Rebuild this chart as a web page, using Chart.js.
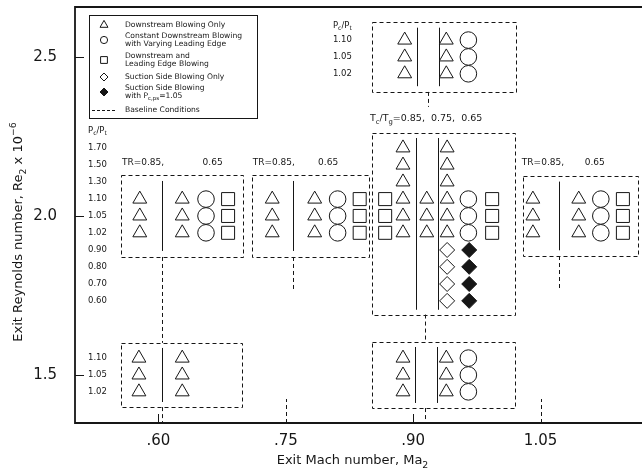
<!DOCTYPE html>
<html>
<head>
<meta charset="utf-8">
<style>
  html, body { margin: 0; padding: 0; background: #fff; }
  #wrap { width: 642px; height: 472px; }
</style>
<script src="https://cdn.jsdelivr.net/npm/chart.js@4.4.0/dist/chart.umd.min.js"></script>
</head>
<body>
<div id="wrap"><canvas id="chart" width="642" height="472"></canvas></div>
<script>
const machTicks = [0.60, 0.75, 0.90, 1.05];
const machLabels = ['.60', '.75', '.90', '1.05'];
const reTicks = [1.5, 2.0, 2.5];
const reLabels = ['1.5', '2.0', '2.5'];

// coolant pressure ratio rows, and the Re_2 level each row sits on
const pcRowsMid = ['1.70', '1.50', '1.30', '1.10', '1.05', '1.02', '0.90', '0.80', '0.70', '0.60'];
const reRowsMid = [2.214, 2.160, 2.107, 2.053, 2.000, 1.947, 1.893, 1.840, 1.786, 1.733];
const pcRowsShort = ['1.10', '1.05', '1.02'];
const reRowsLow = [1.553, 1.500, 1.447];
const reRowsTop = [2.553, 2.500, 2.447];

// [Ma_2 column, Re_2 rows] for each symbol type
const downstreamOnly = [
  [0.578, [2.053, 2.000, 1.947]],
  [0.628, [2.053, 2.000, 1.947]],
  [0.577, [1.553, 1.500, 1.447]],
  [0.628, [1.553, 1.500, 1.447]],
  [0.734, [2.053, 2.000, 1.947]],
  [0.784, [2.053, 2.000, 1.947]],
  [0.888, [2.214, 2.160, 2.107, 2.053, 2.000, 1.947]],
  [0.916, [2.053, 2.000, 1.947]],
  [0.940, [2.214, 2.160, 2.107, 2.053, 2.000, 1.947]],
  [0.890, [2.553, 2.500, 2.447]],
  [0.939, [2.553, 2.500, 2.447]],
  [0.888, [1.553, 1.500, 1.447]],
  [0.939, [1.553, 1.500, 1.447]],
  [1.041, [2.053, 2.000, 1.947]],
  [1.095, [2.053, 2.000, 1.947]]
];
const varyingLE = [
  [0.656, [2.053, 2.000, 1.947]],
  [0.811, [2.053, 2.000, 1.947]],
  [0.965, [2.053, 2.000, 1.947]],
  [0.965, [2.553, 2.500, 2.447]],
  [0.965, [1.553, 1.500, 1.447]],
  [1.121, [2.053, 2.000, 1.947]]
];
const downstreamAndLE = [
  [0.682, [2.053, 2.000, 1.947]],
  [0.837, [2.053, 2.000, 1.947]],
  [0.867, [2.053, 2.000, 1.947]],
  [0.993, [2.053, 2.000, 1.947]],
  [1.147, [2.053, 2.000, 1.947]]
];
const suctionOnly = [
  [0.940, [1.893, 1.840, 1.786, 1.733]]
];
const suctionWithPs = [
  [0.966, [1.893, 1.840, 1.786, 1.733]]
];

// dashed test-condition boxes: [Ma left, Ma right, Re top, Re bottom]
const boxes = [
  [0.556, 0.700, 2.129, 1.871],
  [0.556, 0.698, 1.601, 1.399],
  [0.710, 0.848, 2.129, 1.871],
  [0.851, 1.020, 2.261, 1.690],
  [0.852, 1.022, 2.610, 2.390],
  [0.851, 1.019, 1.604, 1.396],
  [1.029, 1.165, 2.126, 1.874]
];
// solid TR dividers inside the boxes: [Ma, Re top, Re bottom]
const dividers = [
  [0.604, 2.110, 1.890], [0.604, 1.585, 1.415],
  [0.758, 2.110, 1.890],
  [0.903, 2.245, 1.705], [0.929, 2.245, 1.705],
  [0.904, 2.592, 2.408], [0.930, 2.592, 2.408],
  [0.902, 1.588, 1.412], [0.928, 1.588, 1.412],
  [1.072, 2.108, 1.892]
];
// connecting lines between boxes and down to the axis
const links = [
  [0.604, 1.871, 1.601],
  [0.604, 1.399, 1.349],
  [0.758, 1.871, 1.770],
  [1.072, 1.874, 1.770],
  [0.917, 2.390, 2.343],
  [0.914, 1.690, 1.604],
  [0.914, 1.396, 1.349]
];

const toPoints = cols => cols.flatMap(([x, ys]) => ys.map(y => ({ x, y })));

const INK = '#161616';
const FONT = '"DejaVu Sans", sans-serif';

function rich(ctx, parts, x, y, size, align) {
  // parts: [text, 0 normal | 1 subscript | 2 superscript]
  const f = m => (m ? size * 0.72 : size) + 'px ' + FONT;
  let w = 0;
  parts.forEach(([t, m]) => { ctx.font = f(m); w += ctx.measureText(t).width; });
  let cx = align === 'center' ? x - w / 2 : x;
  ctx.textAlign = 'left';
  ctx.textBaseline = 'middle';
  parts.forEach(([t, m]) => {
    ctx.font = f(m);
    const dy = m === 1 ? size * 0.32 : m === 2 ? -size * 0.42 : 0;
    ctx.fillText(t, cx, y + dy);
    cx += ctx.measureText(t).width;
  });
}

function vline(ctx, x, y1, y2) {
  ctx.beginPath();
  ctx.moveTo(Math.round(x) + 0.5, y1);
  ctx.lineTo(Math.round(x) + 0.5, y2);
  ctx.stroke();
}

const annotations = {
  id: 'annotations',
  beforeDatasetsDraw(chart) {
    const { ctx, chartArea: a, scales: { x, y } } = chart;
    const px = v => x.getPixelForValue(v);
    const py = v => y.getPixelForValue(v);
    ctx.save();
    ctx.strokeStyle = INK;
    ctx.lineWidth = 1;

    ctx.setLineDash([4, 3]);
    boxes.forEach(([l, r, t, b]) => {
      ctx.strokeRect(Math.round(px(l)) + 0.5, Math.round(py(t)) + 0.5,
        Math.round(px(r) - px(l)), Math.round(py(b) - py(t)));
    });
    links.forEach(([m, t, b]) => vline(ctx, px(m), py(t), py(b)));
    ctx.setLineDash([]);
    dividers.forEach(([m, t, b]) => vline(ctx, px(m), py(t), py(b)));

    // frame and inward ticks
    ctx.lineWidth = 1.8;
    ctx.beginPath();
    ctx.moveTo(a.right, a.top); ctx.lineTo(a.left, a.top);
    ctx.lineTo(a.left, a.bottom); ctx.lineTo(a.right, a.bottom);
    ctx.stroke();
    ctx.lineWidth = 1;
    reTicks.forEach(v => {
      ctx.beginPath();
      ctx.moveTo(a.left, Math.round(py(v)) + 0.5);
      ctx.lineTo(a.left + 9, Math.round(py(v)) + 0.5);
      ctx.stroke();
    });
    machTicks.forEach((v, i) => {
      // the .75 and 1.05 marks run up as longer dashed lines
      const long = i % 2 === 1;
      ctx.setLineDash(long ? [4, 3] : []);
      vline(ctx, px(v), a.bottom, a.bottom - (long ? 24 : 9));
    });
    ctx.restore();
  },
  afterDatasetsDraw(chart) {
    const { ctx, chartArea: a, scales: { x, y } } = chart;
    const px = v => x.getPixelForValue(v);
    const py = v => y.getPixelForValue(v);
    ctx.save();
    ctx.fillStyle = INK;
    ctx.strokeStyle = INK;

    // P_c/P_t row labels
    const leftX = a.left + 13;
    rich(ctx, [['P', 0], ['c', 1], ['/P', 0], ['t', 1]], leftX, py(2.267), 8.5, 'left');
    pcRowsMid.forEach((t, i) => rich(ctx, [[t, 0]], leftX, py(reRowsMid[i]), 8.5, 'left'));
    pcRowsShort.forEach((t, i) => rich(ctx, [[t, 0]], leftX, py(reRowsLow[i]), 8.5, 'left'));
    const topX = px(0.8055);
    rich(ctx, [['P', 0], ['c', 1], ['/P', 0], ['t', 1]], topX, py(2.597), 8.5, 'left');
    pcRowsShort.forEach((t, i) => rich(ctx, [[t, 0]], topX, py(reRowsTop[i]), 8.5, 'left'));

    // temperature ratio headers
    [[0.557, 0.652], [0.711, 0.788], [1.028, 1.102]].forEach(([m1, m2]) => {
      rich(ctx, [['TR=0.85,', 0]], px(m1), py(2.167), 9, 'left');
      rich(ctx, [['0.65', 0]], px(m2), py(2.167), 9, 'left');
    });
    rich(ctx, [['T', 0], ['c', 1], ['/T', 0], ['g', 1], ['=0.85,  0.75,  0.65', 0]],
      px(0.849), py(2.305), 9.5, 'left');

    // symbol key
    const lx = a.left + 14, ly = 15, lw = 168, lh = 103;
    ctx.lineWidth = 1;
    ctx.strokeRect(lx + 0.5, ly + 0.5, lw, lh);
    const sx = lx + 15, tx = lx + 36;
    const keys = [
      ['triangle', 4.6, false, 25, [[['Downstream Blowing Only', 0]]]],
      ['circle', 3.6, false, 40, [[['Constant Downstream Blowing', 0]], [['with Varying Leading Edge', 0]]]],
      ['rect', 4.8, false, 60, [[['Downstream and', 0]], [['Leading Edge Blowing', 0]]]],
      ['rectRot', 4, false, 77, [[['Suction Side Blowing Only', 0]]]],
      ['rectRot', 4, true, 92, [[['Suction Side Blowing', 0]], [['with P', 0], ['c,ps', 1], ['=1.05', 0]]]]
    ];
    keys.forEach(([style, r, filled, cy, lines]) => {
      ctx.fillStyle = filled ? INK : '#fff';
      Chart.helpers.drawPoint(ctx, { pointStyle: style, radius: r, rotation: 0, borderWidth: 1 }, sx, cy);
      ctx.fillStyle = INK;
      lines.forEach((parts, i) => {
        const off = lines.length === 1 ? 0 : (i === 0 ? -4.2 : 4.2);
        rich(ctx, parts, tx, cy + off, 7.6, 'left');
      });
    });
    ctx.setLineDash([3, 2]);
    ctx.beginPath();
    ctx.moveTo(lx + 3, 110.5); ctx.lineTo(lx + 28, 110.5);
    ctx.stroke();
    ctx.setLineDash([]);
    rich(ctx, [['Baseline Conditions', 0]], tx, 110, 7.6, 'left');

    // axis titles
    rich(ctx, [['Exit Mach number, Ma', 0], ['2', 1]], (a.left + a.right) / 2 - 6, 461, 13, 'center');
    ctx.translate(19, 232);
    ctx.rotate(-Math.PI / 2);
    rich(ctx, [['Exit Reynolds number, Re', 0], ['2', 1], [' x 10', 0], ['\u22126', 2]], 0, 0, 13, 'center');
    ctx.restore();
  }
};

const base = { showLine: false, borderColor: INK, borderWidth: 1, backgroundColor: '#fff' };

new Chart(document.getElementById('chart'), {
  type: 'scatter',
  data: {
    datasets: [
      { ...base, label: 'Downstream Blowing Only', data: toPoints(downstreamOnly), pointStyle: 'triangle', pointRadius: 8 },
      { ...base, label: 'Constant Downstream Blowing with Varying Leading Edge', data: toPoints(varyingLE), pointStyle: 'circle', pointRadius: 8.3 },
      { ...base, label: 'Downstream and Leading Edge Blowing', data: toPoints(downstreamAndLE), pointStyle: 'rect', pointRadius: 9.2 },
      { ...base, label: 'Suction Side Blowing Only', data: toPoints(suctionOnly), pointStyle: 'rectRot', pointRadius: 7.5 },
      { ...base, label: 'Suction Side Blowing with Pc,ps=1.05', data: toPoints(suctionWithPs), pointStyle: 'rectRot', pointRadius: 7.5, backgroundColor: INK }
    ]
  },
  options: {
    responsive: false,
    animation: false,
    devicePixelRatio: 1,
    layout: { autoPadding: false, padding: { top: 7, right: 0, left: 0, bottom: 0 } },
    plugins: { legend: { display: false }, tooltip: { enabled: false } },
    scales: {
      x: {
        type: 'linear',
        min: 0.5017,
        max: 1.1695,
        afterFit: s => { s.height = 49; s.paddingLeft = 0; s.paddingRight = 0; },
        afterBuildTicks: s => { s.ticks = machTicks.map(value => ({ value })); },
        grid: { display: false, drawTicks: false },
        border: { display: false },
        ticks: {
          padding: 9,
          color: INK,
          font: { family: FONT, size: 15 },
          callback: (v, i) => machLabels[i]
        }
      },
      y: {
        type: 'linear',
        min: 1.349,
        max: 2.657,
        afterFit: s => { s.width = 75; s.paddingTop = 0; s.paddingBottom = 0; },
        afterBuildTicks: s => { s.ticks = reTicks.map(value => ({ value })); },
        grid: { display: false, drawTicks: false },
        border: { display: false },
        ticks: {
          padding: 18,
          color: INK,
          font: { family: FONT, size: 15 },
          callback: (v, i) => reLabels[i]
        }
      }
    }
  },
  plugins: [annotations]
});
</script>
</body>
</html>
